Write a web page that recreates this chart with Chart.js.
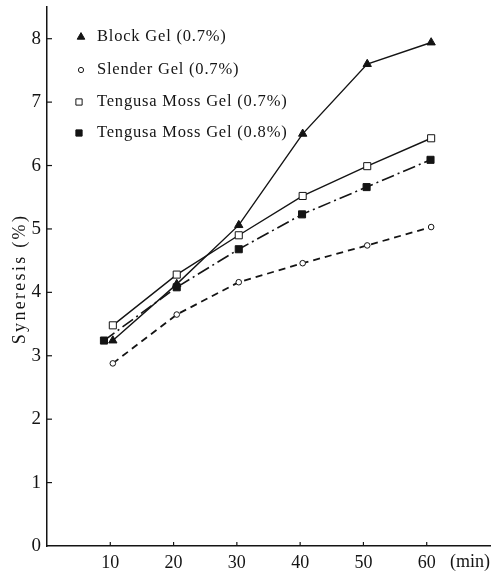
<!DOCTYPE html>
<html><head><meta charset="utf-8">
<script src="https://cdn.jsdelivr.net/npm/chart.js@4.4.1/dist/chart.umd.min.js"></script>
<style>html,body{margin:0;padding:0;background:#fff;}canvas{display:block;}</style>
</head><body>
<canvas id="c" width="496" height="574"></canvas>
<script>
// ---- data ----
const minutes = [10.4, 20.5, 30.3, 40.4, 50.6, 60.7];
const minutesTengusa08 = [9.0, 20.5, 30.3, 40.3, 50.5, 60.6];
const blockGel = [3.24, 4.13, 5.06, 6.50, 7.60, 7.94];
const slenderGel = [2.88, 3.65, 4.16, 4.46, 4.74, 5.03];
const tengusa07 = [3.48, 4.28, 4.90, 5.52, 5.99, 6.43];
const tengusa08 = [3.24, 4.08, 4.68, 5.23, 5.66, 6.09];
const seriesNames = ['Block Gel (0.7%)', 'Slender Gel (0.7%)', 'Tengusa Moss Gel (0.7%)', 'Tengusa Moss Gel (0.8%)'];
const xTickValues = [10, 20, 30, 40, 50, 60];
const yTickValues = [0, 1, 2, 3, 4, 5, 6, 7, 8];
const xUnitLabel = '(min)';
const yTitle = 'Syneresis (%)';

const INK = '#141414';
const FONT = '"Liberation Serif", "DejaVu Serif", serif';

function pts(xs, ys) { return xs.map((x, i) => ({x: x, y: ys[i]})); }

const datasets = [
  {label: seriesNames[0], data: pts(minutes, blockGel), borderColor: INK, backgroundColor: INK,
   borderWidth: 1.4, pointStyle: 'triangle', pointRadius: 4.8, pointBorderWidth: 1, borderDash: []},
  {label: seriesNames[1], data: pts(minutes, slenderGel), borderColor: INK, backgroundColor: '#fff',
   borderWidth: 1.8, pointStyle: 'circle', pointRadius: 2.8, pointBorderWidth: 1, borderDash: [7, 5]},
  {label: seriesNames[2], data: pts(minutes, tengusa07), borderColor: INK, backgroundColor: '#fff',
   borderWidth: 1.4, pointStyle: 'rect', pointRadius: 5, pointBorderWidth: 1, borderDash: []},
  {label: seriesNames[3], data: pts(minutesTengusa08, tengusa08), borderColor: INK, backgroundColor: INK,
   borderWidth: 1.6, pointStyle: 'rect', pointRadius: 5, pointBorderWidth: 1, borderDash: [13, 4, 2, 4]}
];
datasets.forEach(d => { d.pointBorderColor = INK; d.pointBackgroundColor = d.backgroundColor; d.tension = 0; d.fill = false; });

const decorPlugin = {
  id: 'decor',
  afterDraw(chart) {
    const ctx = chart.ctx;
    const xs = chart.scales.x, ys = chart.scales.y, area = chart.chartArea;
    ctx.save();
    ctx.strokeStyle = INK; ctx.lineWidth = 1.2;
    // inward tick marks
    yTickValues.forEach(v => {
      if (v === 0) return;
      const py = ys.getPixelForValue(v);
      ctx.beginPath(); ctx.moveTo(area.left, py); ctx.lineTo(area.left + 5, py); ctx.stroke();
    });
    xTickValues.forEach(v => {
      const px = xs.getPixelForValue(v);
      ctx.beginPath(); ctx.moveTo(px, area.bottom); ctx.lineTo(px, area.bottom - 4); ctx.stroke();
    });
    // x unit
    ctx.fillStyle = INK;
    ctx.font = '18px ' + FONT;
    ctx.textAlign = 'right'; ctx.textBaseline = 'middle';
    ctx.fillText(xUnitLabel, 490, 562);
    // y title
    ctx.save();
    ctx.translate(20, 279);
    ctx.rotate(-Math.PI / 2);
    ctx.textAlign = 'center'; ctx.textBaseline = 'middle';
    ctx.font = '18px ' + FONT;
    ctx.letterSpacing = '2.3px';
    ctx.fillText(yTitle, 0, 0);
    ctx.restore();
    // legend
    const rows = [37, 70, 102, 133];
    chart.data.datasets.forEach((d, i) => {
      const y = rows[i];
      ctx.fillStyle = d.pointBackgroundColor;
      ctx.strokeStyle = INK;
      ctx.lineWidth = 1;
      Chart.helpers.drawPoint(ctx, {pointStyle: d.pointStyle, radius: d.pointStyle === 'circle' ? 2.6 : 4.4, borderWidth: 1, rotation: 0}, d.pointStyle === 'rect' ? 79 : 81, y);
      ctx.fillStyle = INK;
      ctx.font = '16.5px ' + FONT;
      ctx.letterSpacing = '0.8px';
      ctx.textAlign = 'left'; ctx.textBaseline = 'middle';
      ctx.fillText(d.label, 97, y);
    });
    ctx.restore();
  }
};

new Chart(document.getElementById('c'), {
  type: 'line',
  data: {datasets: datasets},
  plugins: [decorPlugin],
  options: {
    responsive: false,
    animation: false,
    devicePixelRatio: 1,
    layout: {padding: {top: 7, right: 6, left: 0, bottom: 0}},
    plugins: {legend: {display: false}, tooltip: {enabled: false}},
    scales: {
      x: {
        type: 'linear', min: 0, max: 70,
        afterFit(s) { s.height = 28; s.paddingLeft = 0; s.paddingRight = 0; },
        grid: {display: false, drawTicks: false},
        border: {display: true, color: INK, width: 1.5},
        afterBuildTicks(s) { s.ticks = xTickValues.map(v => ({value: v})); },
        ticks: {color: INK, font: {family: FONT, size: 18}, padding: 6, maxRotation: 0, autoSkip: false}
      },
      y: {
        type: 'linear', min: 0, max: 8.5,
        afterFit(s) { s.width = 47; s.paddingTop = 0; s.paddingBottom = 0; },
        grid: {display: false, drawTicks: false},
        border: {display: true, color: INK, width: 1.5},
        afterBuildTicks(s) { s.ticks = yTickValues.map(v => ({value: v})); },
        ticks: {color: INK, font: {family: FONT, size: 19}, padding: 6, autoSkip: false}
      }
    }
  }
});
</script>
</body></html>
